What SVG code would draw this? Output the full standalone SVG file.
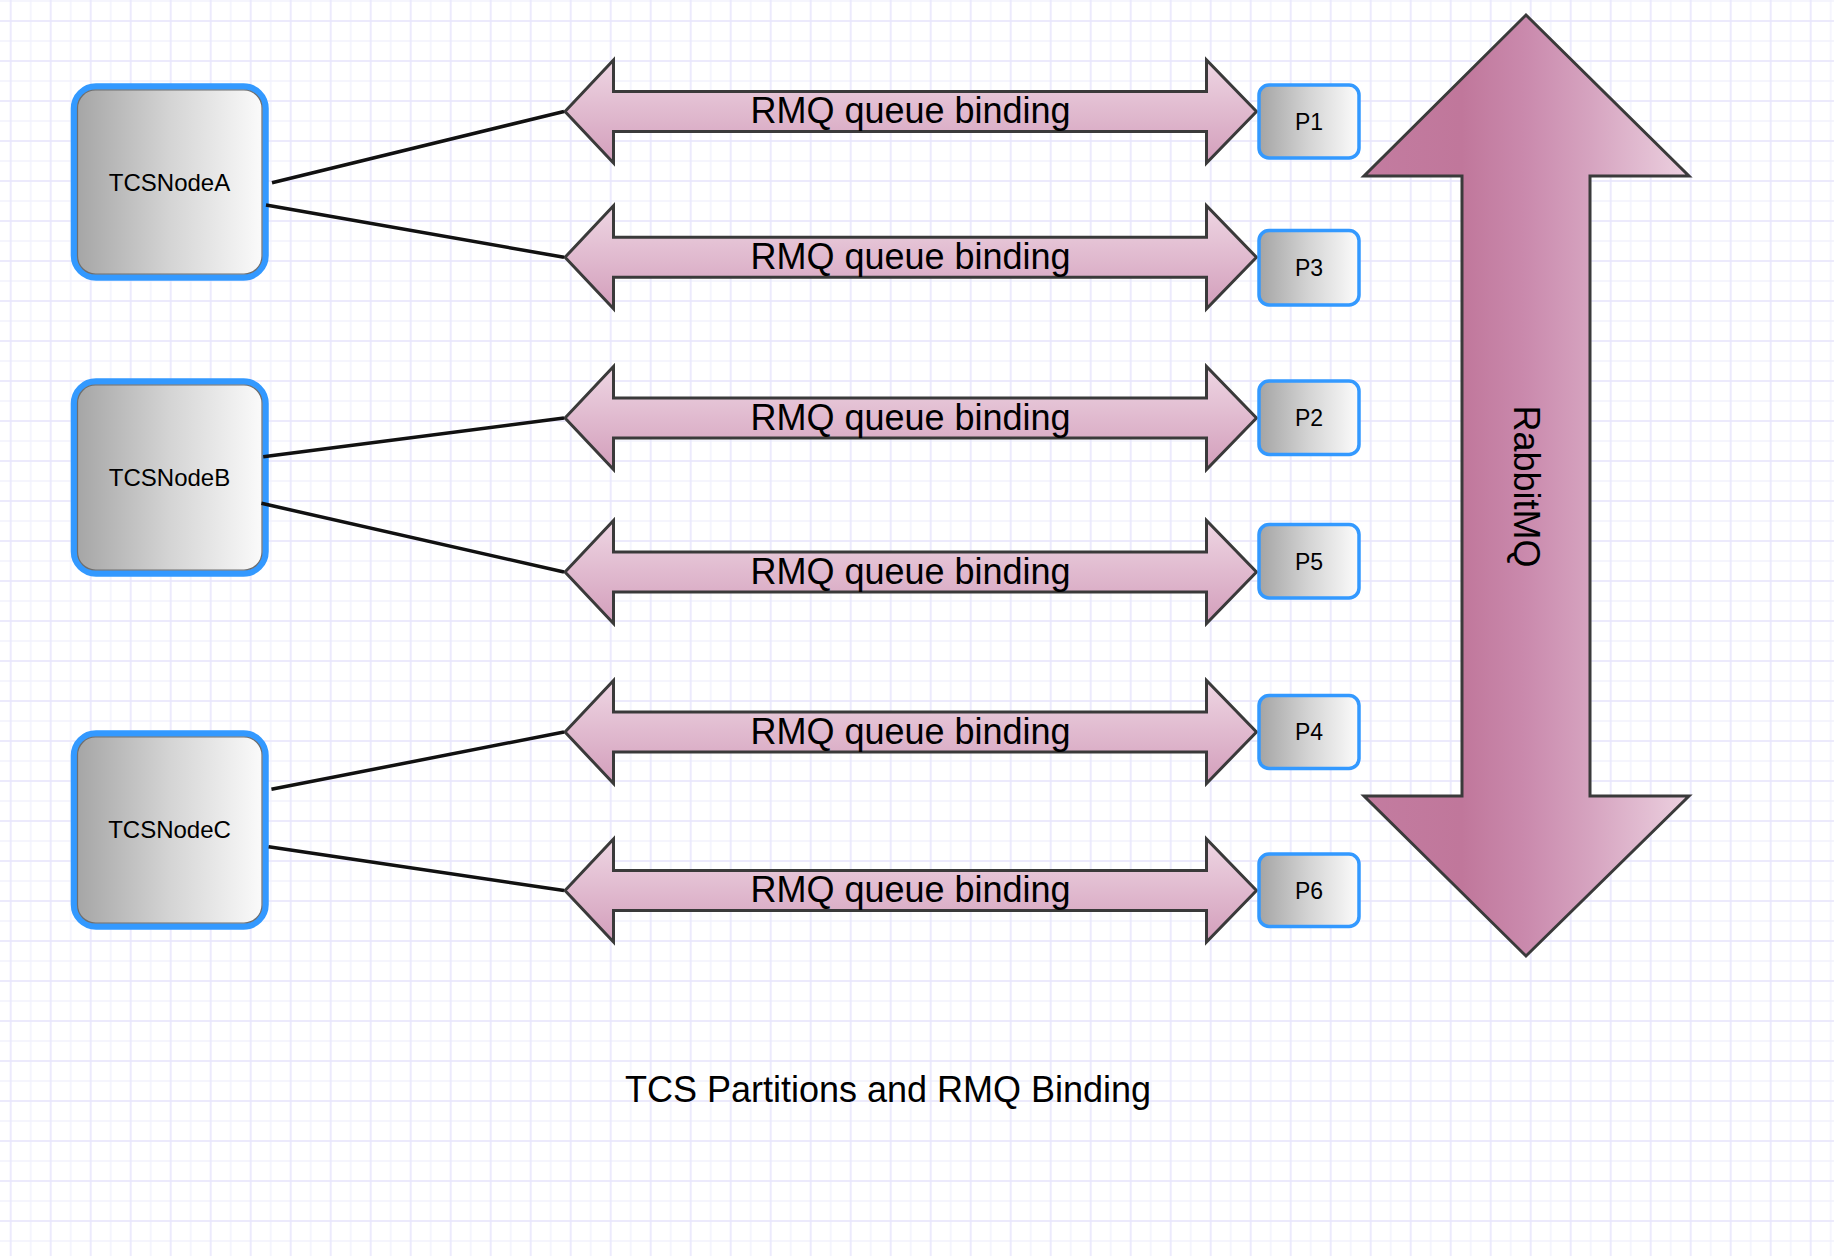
<svg xmlns="http://www.w3.org/2000/svg" width="1834" height="1256" viewBox="0 0 1834 1256">
  <defs>
    <pattern id="grid" patternUnits="userSpaceOnUse" x="0.7" y="11" width="40" height="40">
      <rect x="0" y="0" width="40" height="40" fill="#ffffff"/>
      <rect x="29.3" y="0" width="1.4" height="40" fill="#f2f1fd"/>
      <rect x="0" y="29.3" width="40" height="1.4" fill="#f2f1fd"/>
      <rect x="9.2" y="0" width="1.6" height="40" fill="#e8e6fc"/>
      <rect x="0" y="9.2" width="40" height="1.6" fill="#e8e6fc"/>
    </pattern>
    <linearGradient id="grayGrad" x1="0" y1="0" x2="1" y2="0">
      <stop offset="0" stop-color="#a4a4a4"/>
      <stop offset="0.5" stop-color="#d4d4d4"/>
      <stop offset="1" stop-color="#fcfcfc"/>
    </linearGradient>
    <linearGradient id="pinkGrad" x1="0" y1="0" x2="0" y2="1">
      <stop offset="0" stop-color="#eed6e3"/>
      <stop offset="1" stop-color="#d39ebb"/>
    </linearGradient>
    <linearGradient id="rabbitGrad" gradientUnits="userSpaceOnUse" x1="1364" y1="0" x2="1689" y2="0">
      <stop offset="0" stop-color="#c37ca0"/>
      <stop offset="0.3" stop-color="#c0779b"/>
      <stop offset="0.5" stop-color="#ca8aad"/>
      <stop offset="0.7" stop-color="#d6a4c0"/>
      <stop offset="1" stop-color="#ecd1e0"/>
    </linearGradient>
    <path id="dblArrow" d="M565,0 L613.5,-51.5 L613.5,-20 L1206.5,-20 L1206.5,-51.5 L1256.5,0 L1206.5,51.5 L1206.5,20 L613.5,20 L613.5,51.5 Z"/>
  </defs>
  <style>
    .node { fill: url(#grayGrad); stroke: #3399ff; stroke-width: 6.5; }
    .pbox { fill: url(#grayGrad); stroke: #3399ff; stroke-width: 3.5; }
    .inner { fill: none; stroke: #6e6e6e; stroke-width: 1.2; }
    .binding { fill: url(#pinkGrad); stroke: #3a3a3a; stroke-width: 3; stroke-linejoin: miter; }
    .rabbit { fill: url(#rabbitGrad); stroke: #3a3a3a; stroke-width: 3; }
    .nodeText { font-family: "Liberation Sans", Arial, sans-serif; font-size: 24px; fill: #000; text-anchor: middle; }
    .pText { font-family: "Liberation Sans", Arial, sans-serif; font-size: 23px; fill: #000; text-anchor: middle; }
    .bigText { font-family: "Liberation Sans", Arial, sans-serif; font-size: 36px; fill: #000; text-anchor: middle; }
    .conn { stroke: #111111; stroke-width: 3.5; fill: none; }
  </style>

  <rect x="0" y="0" width="1834" height="1256" fill="url(#grid)"/>

  <g id="rabbitmq">
    <polygon class="rabbit" points="1526,15 1689,176 1590,176 1590,796 1689,796 1526,956 1364,796 1462,796 1462,176 1364,176"/>
    <text class="bigText" transform="translate(1527,486.5) rotate(90)" x="0" y="13">RabbitMQ</text>
  </g>

  <g id="TCSNodeA">
    <rect class="node" x="74" y="86.5" width="191.5" height="191" rx="22"/>
    <rect class="inner" x="77.5" y="90" width="184.5" height="184" rx="18"/>
    <text class="nodeText" x="169.5" y="190.5">TCSNodeA</text>
  </g>
  <g id="TCSNodeB">
    <rect class="node" x="74" y="381.5" width="191.5" height="192" rx="22"/>
    <rect class="inner" x="77.5" y="385" width="184.5" height="185" rx="18"/>
    <text class="nodeText" x="169.5" y="486">TCSNodeB</text>
  </g>
  <g id="TCSNodeC">
    <rect class="node" x="74" y="733.5" width="191.5" height="193" rx="22"/>
    <rect class="inner" x="77.5" y="737" width="184.5" height="186" rx="18"/>
    <text class="nodeText" x="169.5" y="838">TCSNodeC</text>
  </g>

  <g id="binding1">
    <use href="#dblArrow" class="binding" transform="translate(0,111.5)"/>
    <text class="bigText" x="910.5" y="123">RMQ queue binding</text>
  </g>
  <g id="binding2">
    <use href="#dblArrow" class="binding" transform="translate(0,257.3)"/>
    <text class="bigText" x="910.5" y="268.8">RMQ queue binding</text>
  </g>
  <g id="binding3">
    <use href="#dblArrow" class="binding" transform="translate(0,418)"/>
    <text class="bigText" x="910.5" y="429.5">RMQ queue binding</text>
  </g>
  <g id="binding4">
    <use href="#dblArrow" class="binding" transform="translate(0,572)"/>
    <text class="bigText" x="910.5" y="583.5">RMQ queue binding</text>
  </g>
  <g id="binding5">
    <use href="#dblArrow" class="binding" transform="translate(0,732)"/>
    <text class="bigText" x="910.5" y="743.5">RMQ queue binding</text>
  </g>
  <g id="binding6">
    <use href="#dblArrow" class="binding" transform="translate(0,890.5)"/>
    <text class="bigText" x="910.5" y="902">RMQ queue binding</text>
  </g>

  <g id="P1">
    <rect class="pbox" x="1259" y="85" width="100" height="73" rx="10"/>
    <text class="pText" x="1309" y="129.7">P1</text>
  </g>
  <g id="P3">
    <rect class="pbox" x="1259" y="230.5" width="100" height="74.5" rx="10"/>
    <text class="pText" x="1309" y="276">P3</text>
  </g>
  <g id="P2">
    <rect class="pbox" x="1259" y="381" width="100" height="73.5" rx="10"/>
    <text class="pText" x="1309" y="426">P2</text>
  </g>
  <g id="P5">
    <rect class="pbox" x="1259" y="524.5" width="100" height="73.5" rx="10"/>
    <text class="pText" x="1309" y="569.5">P5</text>
  </g>
  <g id="P4">
    <rect class="pbox" x="1259" y="695.5" width="100" height="73" rx="10"/>
    <text class="pText" x="1309" y="740.3">P4</text>
  </g>
  <g id="P6">
    <rect class="pbox" x="1259" y="854" width="100" height="72.5" rx="10"/>
    <text class="pText" x="1309" y="898.5">P6</text>
  </g>

  <g id="connectors">
    <line class="conn" x1="272" y1="182.7" x2="564" y2="111.5"/>
    <line class="conn" x1="266" y1="205" x2="564" y2="257.3"/>
    <line class="conn" x1="263.2" y1="456.7" x2="564" y2="418"/>
    <line class="conn" x1="261.4" y1="503.3" x2="564" y2="572"/>
    <line class="conn" x1="271.4" y1="789.3" x2="564" y2="732"/>
    <line class="conn" x1="268.6" y1="846.7" x2="564" y2="890.5"/>
  </g>

  <g id="caption">
    <text class="bigText" x="888" y="1102">TCS Partitions and RMQ Binding</text>
  </g>
</svg>
